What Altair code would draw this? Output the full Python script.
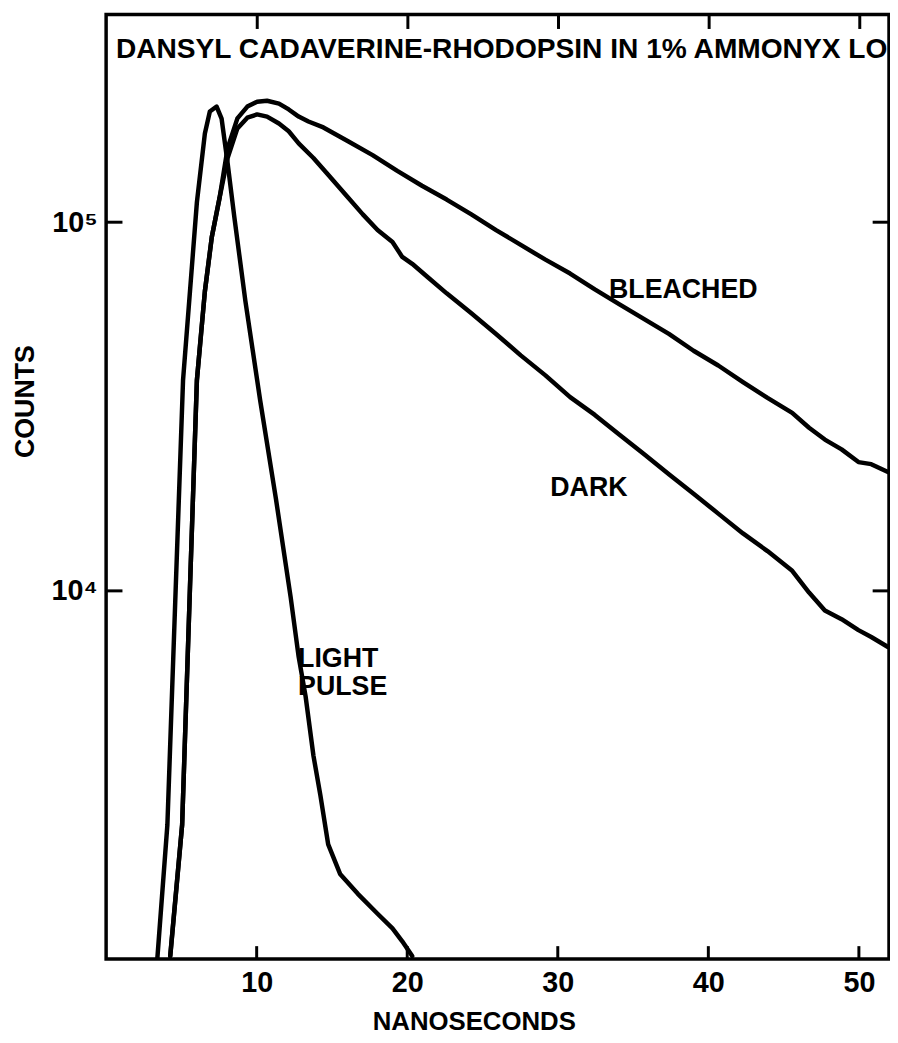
import altair as alt
import pandas as pd

# ---- data (time in ns, counts) ----
light_ns = [3.4, 4.07, 4.59, 5.11, 5.57, 6.03, 6.56, 6.89, 7.34, 7.67, 8.07, 8.52, 9.25,
            10.23, 11.28, 12.26, 12.79, 13.25, 13.77, 14.23, 14.75, 15.54, 16.72, 18.03,
            19.02, 19.67, 20.33]
light_counts = [1000, 2315, 9300, 37240, 64900, 113300, 174200, 199700, 206000, 191000,
                144800, 103000, 61100, 32900, 17740, 9577, 6607, 5164, 3566, 2786, 2047,
                1702, 1503, 1327, 1211, 1117, 1019]

dark_ns = [4.26, 5.05, 5.57, 6.03, 6.56, 7.02, 7.54, 8.07, 8.72, 9.38, 10.03, 10.69, 11.48,
           12.13, 12.79, 13.77, 14.75, 16.07, 17.05, 18.03, 19.02, 19.67, 20.33, 21.31,
           22.62, 24.26, 25.90, 27.54, 29.18, 30.82, 32.46, 34.10, 35.74, 37.38, 39.02,
           40.66, 42.30, 43.93, 45.57, 46.69, 47.74, 48.85, 49.97, 50.82, 51.93]
dark_counts = [1019, 2315, 10186, 37240, 64900, 91160, 116700, 149400, 179700, 192200,
               196100, 193500, 185300, 176500, 163700, 149400, 134500, 116700, 105000,
               95200, 88300, 80500, 77100, 71200, 64100, 56600, 49740, 43500, 38390,
               33500, 29990, 26500, 23440, 20700, 18320, 16180, 14300, 12800, 11315,
               9880, 8835, 8364, 7812, 7482, 7031]

bleached_ns = [4.26, 5.05, 5.57, 6.03, 6.56, 7.02, 7.54, 8.07, 8.72, 9.38, 10.03, 10.69,
               11.48, 12.13, 12.79, 13.44, 14.43, 16.07, 17.70, 19.34, 20.98, 22.62, 24.26,
               25.90, 27.54, 29.18, 30.82, 32.46, 34.10, 35.74, 37.38, 39.02, 40.66, 42.30,
               43.93, 45.57, 46.69, 47.74, 48.85, 49.97, 50.82, 51.93]
bleached_counts = [1019, 2315, 10186, 37240, 64900, 91160, 116700, 158900, 191300, 206000,
                   212300, 213600, 209900, 202300, 193500, 187600, 180800, 165900, 152100,
                   137800, 125600, 115200, 105000, 95200, 86770, 79120, 72560, 65740,
                   59860, 54580, 49740, 44780, 40830, 36800, 33340, 30380, 27670, 25700,
                   24170, 22330, 22040, 20980]

x_ticks = [10, 20, 30, 40, 50]
y_ticks = [10000, 100000]

ann_text = ["DANSYL CADAVERINE-RHODOPSIN IN 1% AMMONYX LO", "BLEACHED", "DARK", "LIGHT", "PULSE"]
ann_ns = [0.65, 33.4, 29.5, 12.75, 12.75]
ann_counts = [294500, 65300, 18970, 6530, 5460]
ann_size = [28.4, 27, 27, 27, 27]

rows = []
for name, xv, yv in [("light", light_ns, light_counts),
                     ("dark", dark_ns, dark_counts),
                     ("bleached", bleached_ns, bleached_counts)]:
    for i, (a, b) in enumerate(zip(xv, yv)):
        rows.append({"series": name, "ns": a, "counts": b, "i": i})
df = pd.DataFrame(rows)
ann = pd.DataFrame({"text": ann_text, "ns": ann_ns, "counts": ann_counts, "size": ann_size})
xt = pd.DataFrame({"t": x_ticks})

FONT = "Liberation Sans"
xs = alt.Scale(domain=[0, 52], nice=False, zero=False)
ys = alt.Scale(type="log", domain=[1000, 366000], nice=False)

x_bottom = alt.Axis(orient="bottom", values=x_ticks, domain=False, grid=False,
                    ticks=False, labelPadding=10, labelFont=FONT, labelFontWeight="bold",
                    labelFontSize=29, labelColor="black", labelBaseline="top",
                    title="NANOSECONDS", titleFont=FONT, titleFontWeight="bold",
                    titleFontSize=26, titleColor="black", titleX=371, titleY=63,
                    titleBaseline="middle", titleAlign="center")
y_left = alt.Axis(orient="left", values=y_ticks, domain=False, grid=False,
                  tickSize={"expr": "-16"}, tickWidth=3, tickColor="black",
                  labelPadding=25, labelFont=FONT, labelFontWeight="bold",
                  labelFontSize=29, labelColor="black", labelBaseline="middle",
                  labelExpr="datum.value == 10000 ? '10\u2074' : '10\u2075'",
                  title="COUNTS", titleFont=FONT, titleFontWeight="bold",
                  titleFontSize=27, titleColor="black", titleAngle=270,
                  titleX=-81, titleY=390, titleAlign="center", titleBaseline="middle")
x_top = alt.Axis(orient="top", values=x_ticks, domain=False, grid=False, labels=False,
                 tickSize={"expr": "-14"}, tickWidth=3, tickColor="black", title=None)
y_right = alt.Axis(orient="right", values=y_ticks, domain=False, grid=False, labels=False,
                   tickSize={"expr": "-17"}, tickWidth=3, tickColor="black", title=None)

lines = alt.Chart(df).mark_line(color="black", strokeWidth=4.5, strokeJoin="round",
                                strokeCap="round", clip=True).encode(
    x=alt.X("ns:Q", scale=xs, axis=x_bottom),
    y=alt.Y("counts:Q", scale=ys, axis=y_left),
    detail="series:N",
    order="i:Q",
)

frame_axes = alt.Chart(df).mark_line(strokeOpacity=0).encode(
    x=alt.X("ns:Q", scale=xs, axis=x_top),
    y=alt.Y("counts:Q", scale=ys, axis=y_right),
    detail="series:N",
    order="i:Q",
)

# inward-pointing ticks on the bottom frame
bottom_ticks = alt.Chart(xt).mark_rule(color="black", strokeWidth=3).encode(
    x=alt.X("t:Q", scale=xs, axis=None),
    y=alt.value(953),
    y2=alt.value(940),
)

labels = alt.Chart(ann).mark_text(font=FONT, fontWeight="bold",
                                  color="black", align="left", baseline="middle").encode(
    x=alt.X("ns:Q", scale=xs, axis=None),
    y=alt.Y("counts:Q", scale=ys, axis=None),
    text="text:N",
    size=alt.Size("size:Q", scale=None, legend=None),
)

chart = alt.layer(lines, frame_axes, bottom_ticks, labels).resolve_axis(
    x="independent", y="independent"
).properties(
    width=790, height=953,
    autosize=alt.AutoSizeParams(type="none"),
    padding={"left": 99, "top": 2, "right": 1, "bottom": 72},
    background="white",
).configure_view(stroke="black", strokeWidth=3.5)

chart.save("out.html", embed_options={"renderer": "svg", "actions": False})
